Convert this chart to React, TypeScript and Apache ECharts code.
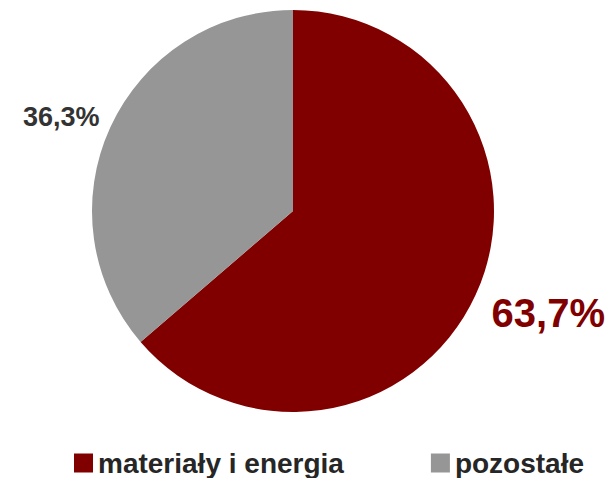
import React, { useEffect, useRef } from "react";
import * as echarts from "echarts";

const categories = ["materiały i energia", "pozostałe"];
const values = [63.7, 36.3];
const colors = ["#800000", "#969696"];
const labelColors = ["#800000", "#333333"];
const labelSizes = [40, 27];

export default function App() {
  const ref = useRef<HTMLDivElement>(null);
  useEffect(() => {
    const chart = echarts.init(ref.current!, null, { renderer: "svg" });
    const fmt = (v: number) => v.toFixed(1).replace(".", ",") + "%";
    const labelPos = [
      { x: 605, y: 313, align: "right" },
      { x: 23, y: 117, align: "left" },
    ];
    chart.setOption({
      animation: false,
      backgroundColor: "#ffffff",
      textStyle: { fontFamily: "Liberation Sans, Arial, sans-serif" },
      legend: {
        left: 74,
        top: 449,
        padding: 0,
        itemGap: 87,
        itemWidth: 19,
        itemHeight: 19,
        icon: "rect",
        data: categories,
        textStyle: {
          fontSize: 28,
          lineHeight: 28,
          fontWeight: "bold",
          color: "#262626",
          fontFamily: "Liberation Sans, Arial, sans-serif",
        },
      },
      series: [
        {
          type: "pie",
          center: [293, 211],
          radius: 201,
          startAngle: 90,
          clockwise: true,
          labelLine: { show: false },
          labelLayout: (params: any) => ({
            x: labelPos[params.dataIndex].x,
            y: labelPos[params.dataIndex].y,
            align: labelPos[params.dataIndex].align,
            verticalAlign: "middle",
          }),
          data: categories.map((name, i) => ({
            name,
            value: values[i],
            itemStyle: { color: colors[i] },
            label: {
              show: true,
              position: "outside",
              overflow: "none",
              width: 200,
              formatter: () => fmt(values[i]),
              color: labelColors[i],
              fontSize: labelSizes[i],
              fontWeight: "bold",
              fontFamily: "Liberation Sans, Arial, sans-serif",
            },
          })),
        },
      ],
    });
    return () => chart.dispose();
  }, []);
  return (
    <div
      ref={ref}
      style={{ position: "fixed", left: 0, top: 0, width: 613, height: 478 }}
    />
  );
}
